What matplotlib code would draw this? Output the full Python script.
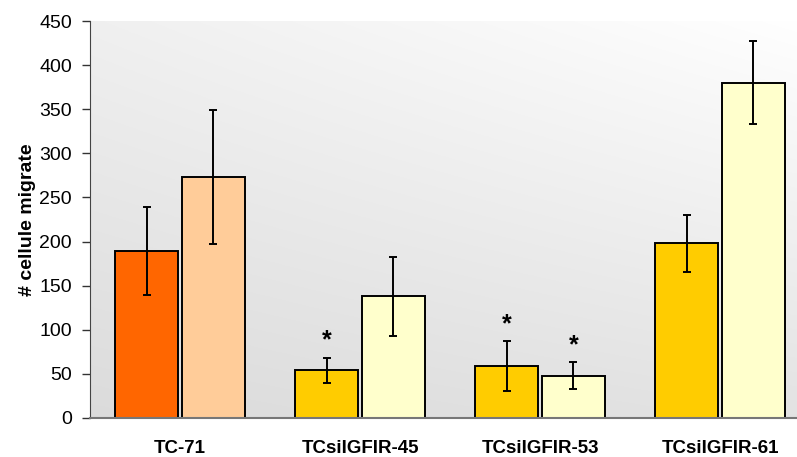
import matplotlib
matplotlib.use("Agg")
import matplotlib.pyplot as plt
import numpy as np

plt.rcParams['font.family'] = ['Liberation Sans', 'DejaVu Sans']

categories = ["TC-71", "TCsiIGFIR-45", "TCsiIGFIR-53", "TCsiIGFIR-61"]
first_values = [189, 54, 59, 198]
first_errors = [50, 14, 28, 32]
second_values = [273, 138, 48, 380]
second_errors = [76, 45, 15, 47]
first_colors = ["#FF6600", "#FFCC00", "#FFCC00", "#FFCC00"]
second_colors = ["#FFCC99", "#FFFFCC", "#FFFFCC", "#FFFFCC"]
first_signif = [False, True, True, False]
second_signif = [False, False, True, False]
y_ticks = [0, 50, 100, 150, 200, 250, 300, 350, 400, 450]

W, H = 797, 457
fig = plt.figure(figsize=(W / 100, H / 100), dpi=100)
ax = fig.add_axes([90 / W, 39 / H, 720 / W, 397 / H])

# light grey background, brightening towards the upper right
gx, gy = np.meshgrid(np.linspace(0, 1, 300), np.linspace(0, 1, 300))
v = 0.86 + 0.08 * gy + 0.03 * gx + 0.03 * gx * gy
rgb = np.dstack([v, v, v])
ax.imshow(rgb, extent=[0, 1, 0, 1], transform=ax.transAxes,
          origin="lower", aspect="auto", zorder=0)

x = np.arange(len(categories))
width = 0.35
off = 0.185
err_kw = dict(ecolor="black", elinewidth=1.4, capsize=3.2, capthick=1.4)
ax.bar(x - off, first_values, width, color=first_colors, edgecolor="black",
       linewidth=1.4, yerr=first_errors, error_kw=err_kw, zorder=2)
ax.bar(x + off, second_values, width, color=second_colors, edgecolor="black",
       linewidth=1.4, yerr=second_errors, error_kw=err_kw, zorder=2)

for i in range(len(categories)):
    if first_signif[i]:
        ax.text(x[i] - off, first_values[i] + first_errors[i] + 6, "*",
                ha="center", va="bottom", fontsize=18, fontweight="bold", zorder=3)
    if second_signif[i]:
        ax.text(x[i] + off, second_values[i] + second_errors[i] + 6, "*",
                ha="center", va="bottom", fontsize=18, fontweight="bold", zorder=3)

ax.set_xlim(-0.5, len(categories) - 0.5)
ax.set_ylim(0, 450)
ax.set_yticks(y_ticks)
ax.set_xticks(x)
ax.set_xticklabels(categories, fontsize=13.5, fontweight="bold")
ax.tick_params(axis="x", length=0, pad=16)
ax.tick_params(axis="y", length=6, width=1, color="#333333", labelsize=14, pad=7)
ax.set_ylabel("# cellule migrate", fontsize=14, fontweight="bold", labelpad=2)

for s in ["top", "right"]:
    ax.spines[s].set_visible(False)
ax.spines["left"].set_color("#444444")
ax.spines["bottom"].set_color("#777777")
ax.spines["bottom"].set_linewidth(1.5)

fig.savefig("out.png", dpi=100)
